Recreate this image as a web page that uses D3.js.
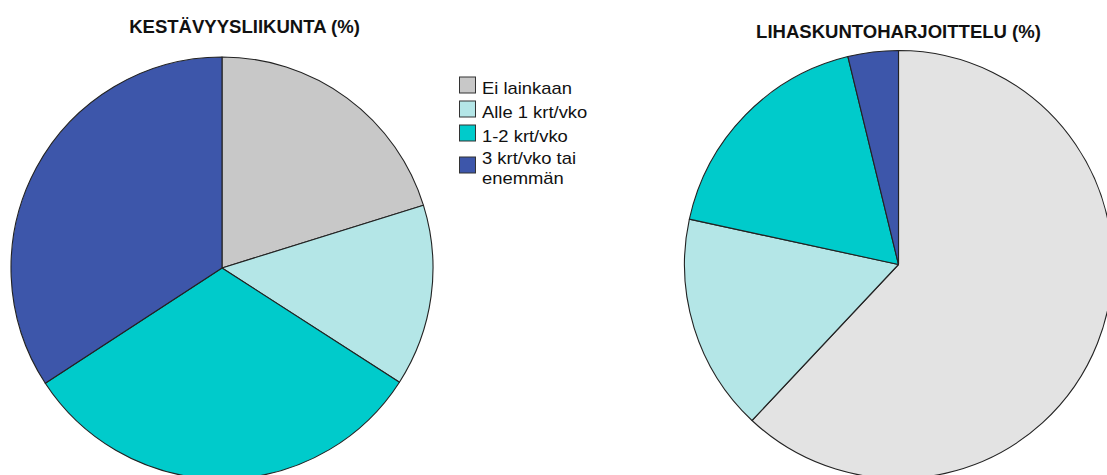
<!DOCTYPE html>
<html>
<head>
<meta charset="utf-8">
<script src="https://cdn.jsdelivr.net/npm/d3@7"></script>
<style>
  html, body { margin: 0; padding: 0; background: #fff; }
  svg { display: block; }
  text { font-family: "Liberation Sans", Arial, sans-serif; fill: #111; }
</style>
</head>
<body>
<svg id="chart" width="1107" height="475"></svg>
<script>
// Response categories (shared by both pies and the legend)
const categories = ["Ei lainkaan", "Alle 1 krt/vko", "1-2 krt/vko", "3 krt/vko tai enemmän"];
const legendLines = [["Ei lainkaan"], ["Alle 1 krt/vko"], ["1-2 krt/vko"], ["3 krt/vko tai", "enemmän"]];

// Share of respondents (%) per category
const enduranceValues = [20.2, 13.9, 31.7, 34.2];
const strengthValues = [62.0, 16.4, 17.8, 3.8];

const titles = ["KESTÄVYYSLIIKUNTA (%)", "LIHASKUNTOHARJOITTELU (%)"];

const leftColors = ["#c8c8c8", "#b4e6e7", "#00cbcb", "#3d56aa"];
const rightColors = ["#e3e3e3", "#b4e6e7", "#00cbcb", "#3d56aa"];

const svg = d3.select("#chart");

const pie = d3.pie().sort(null).value(d => d);

function drawPie(values, colors, cx, cy, r) {
  const arc = d3.arc().innerRadius(0).outerRadius(r);
  const color = d3.scaleOrdinal().domain(categories).range(colors);
  const g = svg.append("g").attr("transform", `translate(${cx},${cy})`);
  g.selectAll("path")
    .data(pie(values))
    .join("path")
    .attr("d", arc)
    .attr("fill", (d, i) => color(categories[i]))
    .attr("stroke", "#222")
    .attr("stroke-width", 1.1)
    .attr("stroke-linejoin", "round");
}

drawPie(enduranceValues, leftColors, 222, 268, 211);
drawPie(strengthValues, rightColors, 898.5, 264.5, 214);

// Titles
function title(txt, x, y) {
  svg.append("g")
    .attr("transform", `translate(${x},${y}) scale(1.06,1)`)
    .append("text")
    .attr("text-anchor", "middle")
    .attr("font-size", 17.5)
    .attr("font-weight", "bold")
    .text(txt);
}
title(titles[0], 244.5, 33);
title(titles[1], 898.5, 37.5);

// Legend
const legendColor = d3.scaleOrdinal().domain(categories).range(leftColors);
const itemY = [77, 101, 125, 157];
const legend = svg.append("g");
categories.forEach((c, i) => {
  legend.append("rect")
    .attr("x", 459.5).attr("y", itemY[i])
    .attr("width", 16).attr("height", 16)
    .attr("fill", legendColor(c))
    .attr("stroke", "#333").attr("stroke-width", 1);
  const baseY = i < 3 ? itemY[i] + 16.5 : 163.5;
  legendLines[i].forEach((line, j) => {
    legend.append("g")
      .attr("transform", `translate(482,${baseY + j * 20.5}) scale(1.15,1)`)
      .append("text")
      .attr("font-size", 16)
      .text(line);
  });
});
</script>
</body>
</html>
